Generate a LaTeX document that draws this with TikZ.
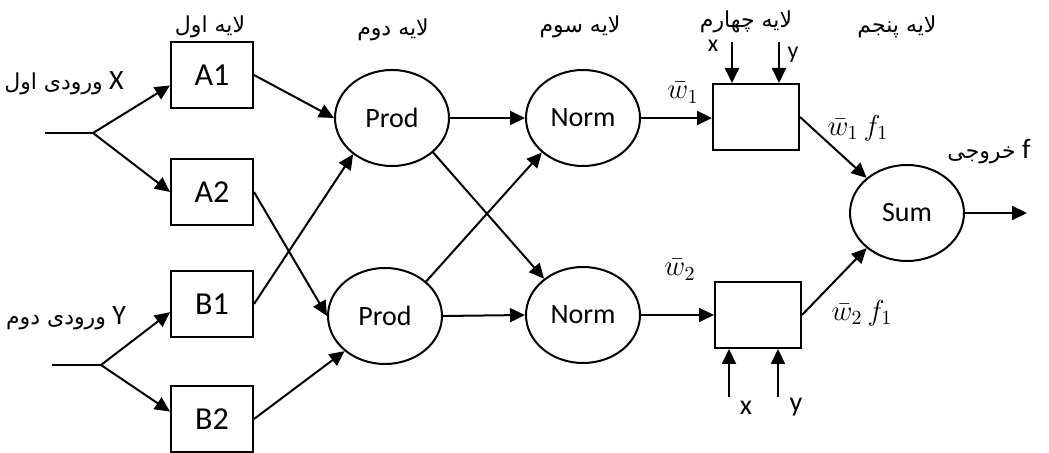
\documentclass[tikz,border=0pt]{standalone}
\usepackage{fontspec}
\setmainfont{Carlito}
\newfontfamily\fa[Script=Arabic]{DejaVu Sans}
\TeXXeTstate=1
\usepackage{tikz}
\usetikzlibrary{shapes.geometric, arrows.meta}
\tikzstyle{block} = [rectangle, minimum width=41pt, minimum height=33pt, text centered, draw=black, line width=1pt, font=\fontsize{16}{18}\selectfont]
\tikzstyle{cell} = [rectangle, minimum width=43pt, minimum height=33pt, draw=black, line width=1pt]
\tikzstyle{unit} = [ellipse, minimum width=57pt, minimum height=48pt, inner sep=0pt, draw=black, line width=1pt, font=\fontsize{14}{16}\selectfont]
\tikzstyle{arrow} = [line width=1pt, -{Triangle[length=7.5pt,width=7pt]}]
\tikzstyle{layer} = [inner sep=0pt, font=\fa\fontsize{11}{13}\selectfont]
\tikzstyle{note} = [inner sep=0pt, font=\fontsize{14}{16}\selectfont]

\begin{document}
\begin{tikzpicture}[x=0.5pt, y=-0.5pt]
\useasboundingbox (0,0) rectangle (1049,453);

% Nodes
\node (A1) [block] at (212,75) {A1};
\node (A2) [block] at (212,192) {A2};
\node (B1) [block] at (212,304) {B1};
\node (B2) [block] at (212,419) {B2};
\node (prod1) [unit] at (392,118) {Prod};
\node (prod2) [unit] at (385,316) {Prod};
\node (norm1) [unit] at (583,118) {Norm};
\node (norm2) [unit] at (583,315) {Norm};
\node (rule1) [cell] at (756,117) {};
\node (rule2) [cell] at (758,315) {};
\node (sum) [unit] at (907,213) {Sum};

\coordinate (xin) at (45,133);
\coordinate (xsplit) at (93,133);
\coordinate (yin) at (52,365);
\coordinate (ysplit) at (101,365);
\coordinate (xtop) at (732,42);
\coordinate (ytop) at (779,42);
\coordinate (xbot) at (729,397);
\coordinate (ybot) at (778,397);
\coordinate (fout) at (1027,213);

% Annotations
\node (lay1) [layer] at (210,27) {\beginR لایه اول\endR};
\node (lay2) [layer] at (393,30) {\beginR لایه دوم\endR};
\node (lay3) [layer] at (580,27) {\beginR لایه سوم\endR};
\node (lay4) [layer] at (746,22) {\beginR لایه چهارم\endR};
\node (lay5) [layer] at (897,27) {\beginR لایه پنجم\endR};
\node (inx) [note] at (64,83) {{\fa\fontsize{11}{13}\selectfont\beginR ورودی اول\endR} X};
\node (iny) [note] at (66,318) {{\fa\fontsize{11}{13}\selectfont\beginR ورودی دوم\endR} Y};
\node (outf) [note] at (989,152) {{\fa\fontsize{11}{13}\selectfont\beginR خروجی\endR} f};
\node (w1) [note] at (683,93) {$\bar{w}_1$};
\node (w2) [note] at (680,270) {$\bar{w}_2$};
\node (wf1) [note] at (858,128) {$\bar{w}_1\, f_1$};
\node (wf2) [note] at (862,313) {$\bar{w}_2\, f_1$};
\node (xt) [note, font=\fontsize{12}{14}\selectfont] at (713,46) {x};
\node (yt) [note, font=\fontsize{12}{14}\selectfont] at (793,55) {y};
\node (xb) [note] at (746,408) {x};
\node (yb) [note] at (796,407) {y};

% Arrows
\draw [line width=0.6pt] (xin) -- (xsplit);
\draw [line width=0.6pt] (yin) -- (ysplit);
\draw [arrow] (xsplit) -- (A1.194);
\draw [arrow] (xsplit) -- (A2.west);
\draw [arrow] (ysplit) -- (B1.191);
\draw [arrow] (ysplit) -- (B2.170);
\draw [arrow] (A1.east) -- (prod1.west);
\draw [arrow] (A2.east) -- (prod2.west);
\draw [arrow] (B1.east) -- (prod1.223);
\draw [arrow] (B2.east) -- (prod2.221);
\draw [arrow] (prod1.east) -- (norm1.west);
\draw [arrow] (prod1.320) -- (norm2.137);
\draw [arrow] (prod2.40) -- (norm1.220);
\draw [arrow] (prod2.east) -- (norm2.west);
\draw [arrow] (norm1.east) -- (norm1.east -| rule1.west);
\draw [arrow] (norm2.east) -- (norm2.east -| rule2.west);
\draw [arrow] (xtop) -- (xtop |- rule1.north);
\draw [arrow] (ytop) -- (ytop |- rule1.north);
\draw [arrow] (xbot) -- (xbot |- rule2.south);
\draw [arrow] (ybot) -- (ybot |- rule2.south);
\draw [arrow] (rule1.east) -- (sum.139);
\draw [arrow] (rule2.east) -- (sum.221);
\draw [arrow] (sum.east) -- (fout);

\end{tikzpicture}
\end{document}
